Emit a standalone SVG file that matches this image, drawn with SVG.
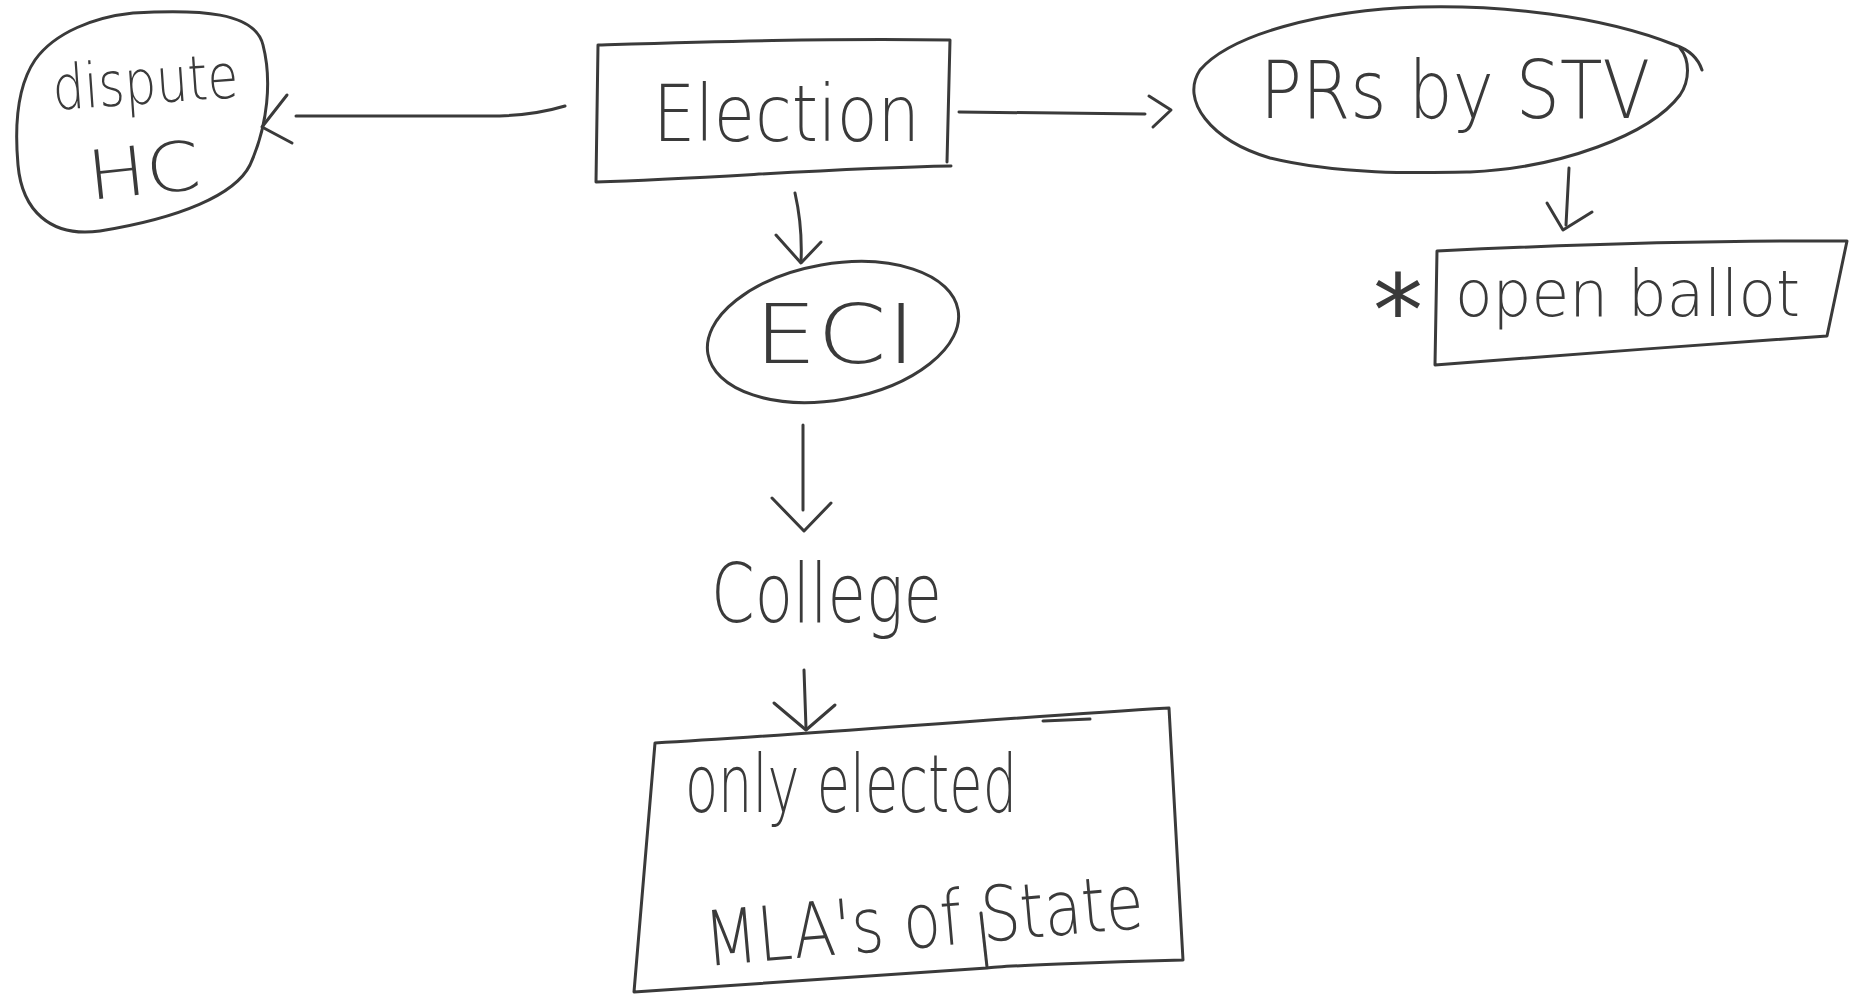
<svg xmlns="http://www.w3.org/2000/svg" width="1853" height="995" viewBox="0 0 1853 995">
<style>
.s{fill:none;stroke:#3a3a3a;stroke-width:3;stroke-linecap:round;stroke-linejoin:round}
.t{font-family:"DejaVu Sans","Liberation Sans",sans-serif;font-weight:200;fill:#3a3a3a}
</style>
<rect width="1853" height="995" fill="#ffffff"/>
<g id="connectors">
<path class="s" d="M 565,106 C 545,112 520,117 480,116 L 296,116"/>
<path class="s" d="M 287,95 L 262,127 L 292,143"/>
<path class="s" d="M 959,112 L 1145,114"/>
<path class="s" d="M 1149,96 L 1171,110 L 1153,127"/>
<path class="s" d="M 795,193 C 800,215 802,240 801,262"/>
<path class="s" d="M 776,235 L 801,263 L 821,242"/>
<path class="s" d="M 803,425 L 803,510"/>
<path class="s" d="M 772,498 L 804,531 L 831,503"/>
<path class="s" d="M 804,670 L 806,728"/>
<path class="s" d="M 774,703 L 806,730 L 835,705"/>
<path class="s" d="M 1569,168 L 1566,225"/>
<path class="s" d="M 1547,203 L 1563,230 L 1592,212"/>
</g>
<g id="node-dispute">
<path class="s" d="M 133,13 C 200,9 255,12 263,45 C 272,80 268,125 250,165 C 235,195 180,218 100,231 C 50,238 22,210 18,165 C 14,120 18,85 35,60 C 55,32 95,17 133,13 Z"/>
<text class="t" x="54" y="110" font-size="62" textLength="186" lengthAdjust="spacingAndGlyphs" transform="rotate(-4 54 110)">dispute</text>
<text class="t" x="90" y="200" font-size="68" textLength="113" lengthAdjust="spacingAndGlyphs" transform="rotate(-6 90 200)">HC</text>
</g>
<g id="node-election">
<path class="s" d="M 598,45 C 700,42 830,38 950,40 L 947,162 M 951,166 C 830,168 720,178 596,182 L 598,45"/>
<text class="t" x="653" y="141" font-size="78" textLength="267" lengthAdjust="spacingAndGlyphs">Election</text>
</g>
<g id="node-prs">
<path class="s" d="M 1702,70 C 1698,58 1690,50 1675,45 C 1600,15 1500,5 1420,7 C 1320,10 1230,35 1200,70 C 1180,100 1210,140 1270,158 C 1340,175 1420,173 1470,172 C 1560,168 1650,135 1680,95 C 1690,80 1690,60 1680,48"/>
<text class="t" x="1260" y="118" font-size="80" textLength="390" lengthAdjust="spacingAndGlyphs">PRs by STV</text>
</g>
<g id="node-ballot">
<path class="s" d="M 1437,251 C 1560,245 1700,240 1847,241 L 1827,336 C 1700,345 1560,355 1435,365 Z"/>
<text x="1373" y="346" font-size="100" font-family="DejaVu Sans, sans-serif" fill="#3a3a3a">*</text>
<text class="t" x="1455" y="316" font-size="64" textLength="345" lengthAdjust="spacingAndGlyphs">open ballot</text>
</g>
<g id="node-eci">
<ellipse class="s" cx="833" cy="332" rx="127" ry="68" transform="rotate(-10 833 332)"/>
<text class="t" x="754" y="363" font-size="82" textLength="162" lengthAdjust="spacingAndGlyphs">ECI</text>
</g>
<g id="node-college">
<text class="t" x="711" y="622" font-size="82" textLength="231" lengthAdjust="spacingAndGlyphs">College</text>
</g>
<g id="node-mla">
<path class="s" d="M 655,743 C 800,735 1000,718 1169,708 L 1183,960 C 1100,962 1000,966 987,968 C 850,978 740,985 634,992 Z"/>
<path class="s" d="M 1043,721 L 1090,719"/>
<path class="s" d="M 981,913 L 987,967"/>
<text class="t" x="685" y="812" font-size="80" textLength="332" lengthAdjust="spacingAndGlyphs">only elected</text>
<text class="t" x="707" y="966" font-size="76" textLength="440" lengthAdjust="spacingAndGlyphs" transform="rotate(-5 707 966)">MLA's of State</text>
</g>
</svg>
